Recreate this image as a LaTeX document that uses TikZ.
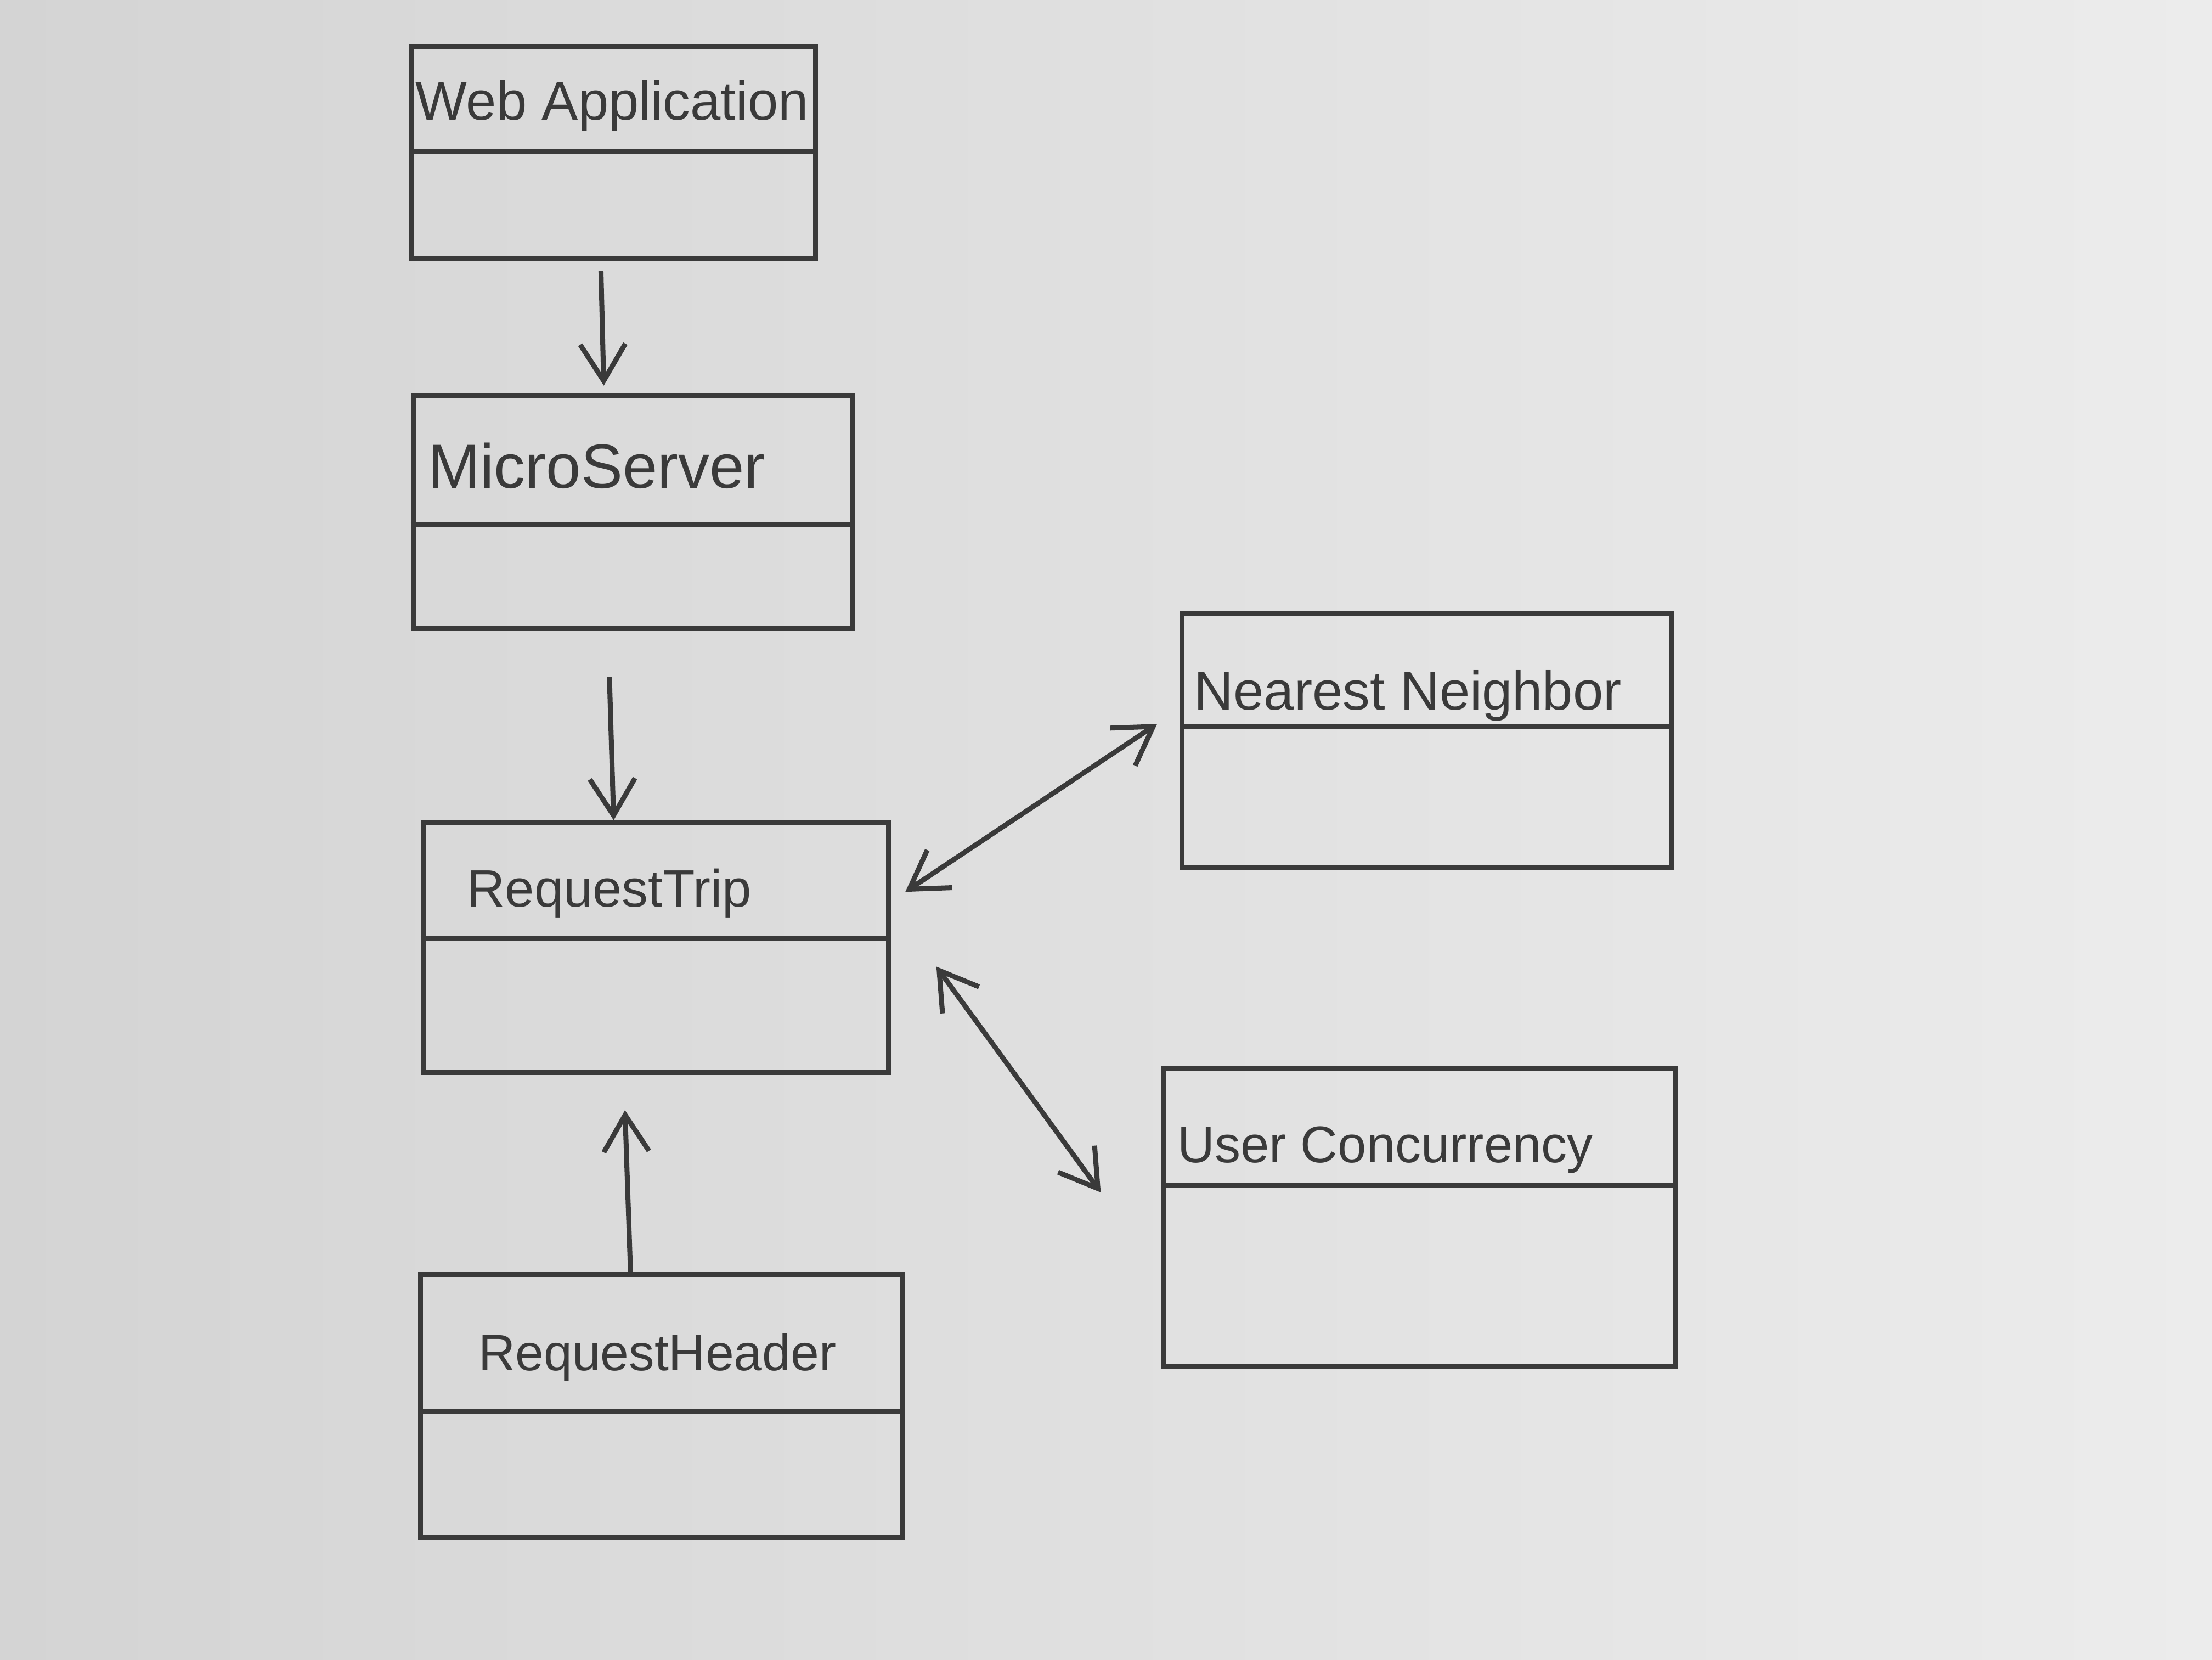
\documentclass[tikz,border=0pt]{standalone}
\usepackage{fontspec}
\setmainfont{Liberation Sans}
\usetikzlibrary{arrows.meta,calc}
\definecolor{ink}{RGB}{58,58,58}
\definecolor{paperL}{RGB}{212,212,212}
\definecolor{paperR}{RGB}{236,236,236}
\tikzset{
  umlbox/.style={draw=ink, line width=1pt, rectangle, inner sep=0pt},
  title/.style={text=ink, inner sep=0pt},
  fs/.style={font=\fontsize{#1}{#1}\selectfont},
  divider/.style={draw=ink, line width=1pt},
  arr/.style={draw=ink, line width=1pt, -{Straight Barb[length=2.6mm,width=3.2mm]}},
  darr/.style={draw=ink, line width=1pt, {Straight Barb[length=2.6mm,width=3.2mm]}-{Straight Barb[length=2.6mm,width=3.2mm]}}
}
\begin{document}
\begin{tikzpicture}[x=0.1mm, y=-0.1mm]
\shade[left color=paperL, right color=paperR] (0,0) rectangle (1568,1176);
\useasboundingbox (0,0) rectangle (1568,1176);

% boxes
\node[umlbox, minimum width=2.86cm, minimum height=1.50cm] (wa) at (435,108) {};
\node[umlbox, minimum width=3.11cm, minimum height=1.65cm] (ms) at (448.5,362.5) {};
\node[umlbox, minimum width=3.30cm, minimum height=1.77cm] (rt) at (465,671.5) {};
\node[umlbox, minimum width=3.42cm, minimum height=1.87cm] (rh) at (469,996.5) {};
\node[umlbox, minimum width=3.47cm, minimum height=1.80cm] (nn) at (1011.5,525) {};
\node[umlbox, minimum width=3.63cm, minimum height=2.11cm] (uc) at (1006.5,862.5) {};

% dividers
\draw[divider] (wa.west |- 0,107) -- (wa.east |- 0,107);
\draw[divider] (ms.west |- 0,372) -- (ms.east |- 0,372);
\draw[divider] (rt.west |- 0,665) -- (rt.east |- 0,665);
\draw[divider] (rh.west |- 0,1000) -- (rh.east |- 0,1000);
\draw[divider] (nn.west |- 0,515) -- (nn.east |- 0,515);
\draw[divider] (uc.west |- 0,840) -- (uc.east |- 0,840);

% titles
\node[title, fs=11] (wat) at (434,75) {Web Application};
\node[title, fs=12.6] (mst) at (423,330) {MicroServer};
\node[title, fs=10.6] (rtt) at (432,633) {RequestTrip};
\node[title, fs=10.3] (rht) at (466,962) {RequestHeader};
\node[title, fs=11] (nnt) at (998,493) {Nearest Neighbor};
\node[title, fs=10.4] (uct) at (982,815) {User Concurrency};

% connectors
\draw[arr] ($(wa.south)+(-9,7)$) -- ($(ms.north)+(-20.5,-5)$);
\draw[arr] ($(ms.south)+(-16.5,33)$) -- ($(rt.north)+(-30,0)$);
\draw[arr] ($(rh.north)+(-22,2)$) -- ($(rt.south)+(-22,25)$);
\draw[darr] ($(rt.east)+(10,-39.5)$) -- ($(nn.west)+(-16,-12)$);
\draw[darr] ($(rt.east)+(32,13.5)$) -- ($(uc.west)+(-43,-17.5)$);
\end{tikzpicture}
\end{document}
